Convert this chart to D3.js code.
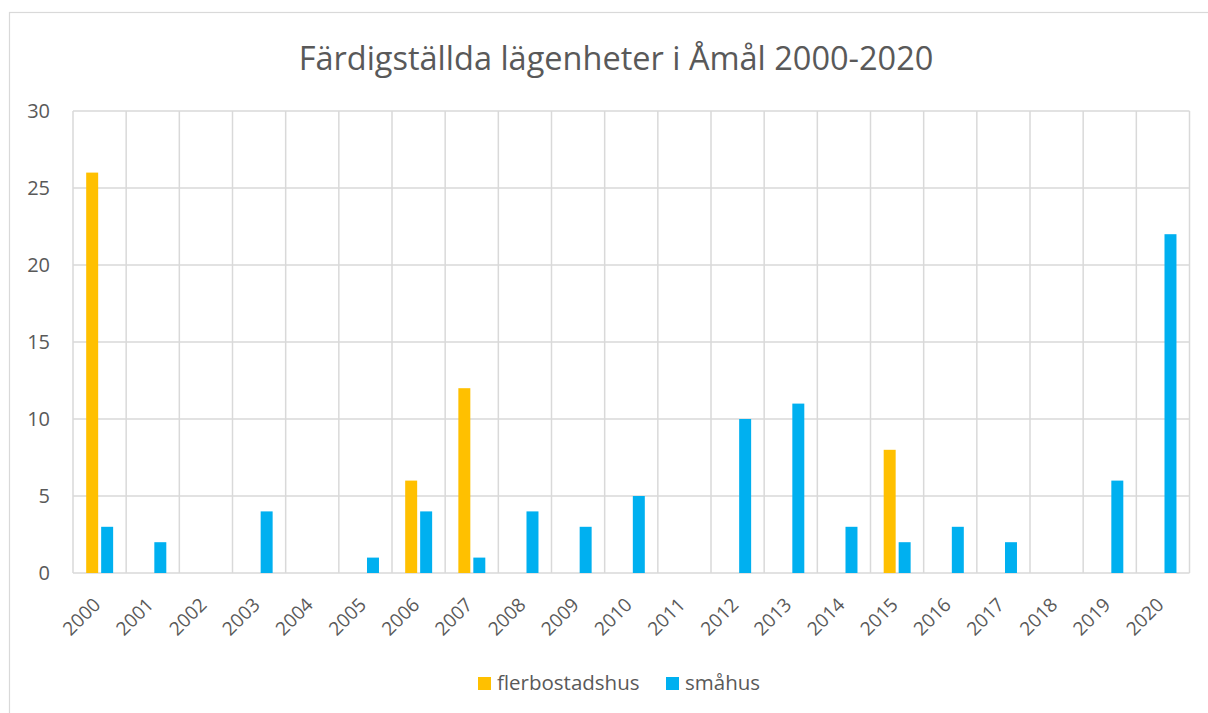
<!DOCTYPE html>
<html>
<head>
<meta charset="utf-8">
<script src="https://cdn.jsdelivr.net/npm/d3@7"></script>
<style>
  html, body { margin: 0; padding: 0; background: #fff; }
  svg { display: block; }
  text { font-family: "Open Sans", "Noto Sans", sans-serif; fill: #595959; }
</style>
</head>
<body>
<svg id="chart" width="1208" height="713"></svg>
<script>
const title = "Färdigställda lägenheter i Åmål 2000-2020";
const years = ["2000","2001","2002","2003","2004","2005","2006","2007","2008","2009","2010",
               "2011","2012","2013","2014","2015","2016","2017","2018","2019","2020"];
const seriesNames = ["flerbostadshus", "småhus"];
const flerbostadshus = [26,0,0,0,0,0,6,12,0,0,0,0,0,0,0,8,0,0,0,0,0];
const smahus = [3,2,0,4,0,1,4,1,4,3,5,0,10,11,3,2,3,2,0,6,22];
const yTicks = [0,5,10,15,20,25,30];
const colors = ["#FFC000", "#00B0F0"];

const svg = d3.select("#chart");
const plot = {left: 73, right: 1189.5, top: 111, bottom: 573};

// chart border
svg.append("rect").attr("x", 9.5).attr("y", 12.5).attr("width", 1230).attr("height", 740)
  .attr("fill", "#fff").attr("stroke", "#D9D9D9").attr("stroke-width", 1.2);

const x = d3.scaleBand().domain(years).range([plot.left, plot.right]).padding(0);
const bw = x.bandwidth();
const xInner = d3.scaleBand().domain(seriesNames)
  .range([bw * 0.248, bw * 0.755]).paddingInner(0.2).paddingOuter(0);
const y = d3.scaleLinear().domain([0, 30]).range([plot.bottom, plot.top]);

const grid = svg.append("g");
grid.selectAll("line.h").data(yTicks).join("line")
  .attr("x1", plot.left).attr("x2", plot.right)
  .attr("y1", d => y(d)).attr("y2", d => y(d))
  .attr("stroke", "#D9D9D9").attr("stroke-width", 1.5);
const bounds = years.map(d => x(d)).concat([plot.right]);
grid.selectAll("line.v").data(bounds).join("line")
  .attr("x1", d => d).attr("x2", d => d)
  .attr("y1", plot.top).attr("y2", plot.bottom)
  .attr("stroke", "#D9D9D9").attr("stroke-width", 1.5);

// bars
const data = years.map((yr, i) => ({year: yr, values: [flerbostadshus[i], smahus[i]]}));
const groups = svg.append("g").selectAll("g").data(data).join("g")
  .attr("transform", d => `translate(${x(d.year)},0)`);
groups.selectAll("rect").data(d => d.values.map((v, j) => ({name: seriesNames[j], v, j})))
  .join("rect")
  .filter(d => d.v > 0)
  .attr("x", d => xInner(d.name))
  .attr("width", xInner.bandwidth())
  .attr("y", d => y(d.v))
  .attr("height", d => y(0) - y(d.v))
  .attr("fill", d => colors[d.j]);

// y axis labels
const yAxis = d3.axisLeft(y).tickValues(yTicks).tickSize(0).tickPadding(0);
const ya = svg.append("g").attr("transform", `translate(${plot.left - 23},0)`).call(yAxis);
ya.select(".domain").remove();
ya.selectAll("text").attr("font-size", 20).attr("fill", "#595959")
  .style("font-family", '"Open Sans", sans-serif');

// x axis labels
const xAxis = d3.axisBottom(x).tickSize(0).tickPadding(0);
const xa = svg.append("g").attr("transform", `translate(0,${plot.bottom})`).call(xAxis);
xa.select(".domain").remove();
xa.selectAll("text")
  .attr("font-size", 19).attr("fill", "#595959")
  .style("font-family", '"Open Sans", sans-serif')
  .attr("text-anchor", "end")
  .attr("dy", 0)
  .attr("y", 0)
  .attr("transform", "translate(2,33) rotate(-45)");

// title
svg.append("text").attr("x", 616).attr("y", 70).attr("text-anchor", "middle")
  .attr("font-size", 32.5).text(title);

// legend
const legend = svg.append("g");
const legendItems = [{name: seriesNames[0], x: 478}, {name: seriesNames[1], x: 666}];
legendItems.forEach((d, i) => {
  legend.append("rect").attr("x", d.x).attr("y", 677).attr("width", 13).attr("height", 13)
    .attr("fill", colors[i]);
  legend.append("text").attr("x", d.x + 19).attr("y", 690).attr("font-size", 20.5).text(d.name);
});
</script>
</body>
</html>
